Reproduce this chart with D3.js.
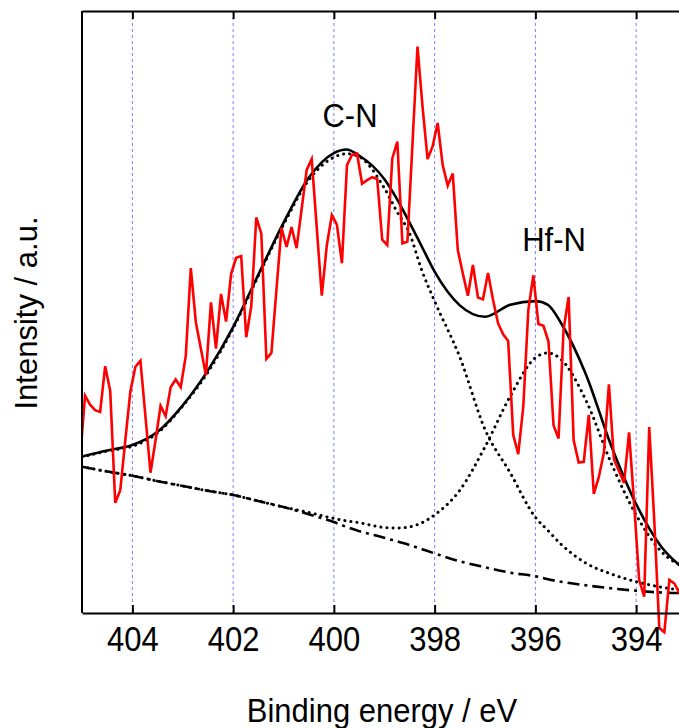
<!DOCTYPE html>
<html>
<head>
<meta charset="utf-8">
<script src="https://cdn.jsdelivr.net/npm/d3@7"></script>
<style>
  body { margin: 0; background: #fff; }
  text { font-family: "Liberation Sans", Arial, sans-serif; fill: #000; }
</style>
</head>
<body>
<svg id="chart" width="679" height="728"></svg>
<script>
// measured spectrum, 0.1 eV steps starting just above 405 eV
const rawStart = 405.04;
const rawStep = 0.1;
const rawIntensity = [
  25.4, 36.1, 34.6, 33.7, 33.4, 41.0, 36.9, 18.3, 20.4, 28.7,
  36.8, 40.9, 41.9, 32.6, 23.3, 28.7, 34.4, 32.7, 37.5, 38.8,
  37.5, 42.7, 57.3, 48.3, 43.9, 39.5, 51.6, 43.9, 53.0, 48.4,
  56.3, 59.0, 59.3, 45.8, 50.9, 65.7, 63.0, 42.2, 43.2, 53.7,
  64.0, 60.8, 64.1, 60.6, 67.1, 73.6, 75.4, 64.0, 52.7, 61.1,
  66.1, 64.5, 58.1, 74.4, 76.1, 76.3, 71.3, 71.9, 72.4, 72.1,
  62.0, 61.1, 75.5, 78.3, 61.4, 61.7, 77.9, 94.1, 84.1, 75.4,
  77.5, 81.4, 74.4, 71.0, 73.0, 60.3, 56.4, 52.7, 57.8, 52.4,
  52.1, 56.5, 52.0, 48.1, 46.3, 45.2, 29.6, 26.4, 34.3, 50.3,
  56.1, 48.0, 47.7, 45.1, 31.2, 29.0, 47.1, 52.5, 28.7, 25.0,
  25.1, 32.9, 19.8, 22.6, 26.6, 38.0, 25.5, 23.6, 21.6, 30.0,
  18.2, 5.5, 2.7, 30.9, 15.4, -2.5, -3.2, 5.5, 4.9, 3.3,
  2.2
];
const rawEnergy = rawIntensity.map((d, i) => +(rawStart - i * rawStep).toFixed(2));

const fitEnergy = [405, 404.5, 404, 403.5, 403, 402.5, 402, 401.5, 401, 400.5, 400, 399.75, 399.5,
  399, 398.75, 398.5, 398.25, 398, 397.5, 397, 396.5, 396, 395.75, 395.5, 395, 394.5, 394, 393.5, 393];
const envelope = [26.0, 27.0, 27.9, 30.1, 34.5, 40.3, 47.5, 56.2, 64.8, 72.3, 76.4, 77.0, 76.0,
  72.1, 68.8, 64.9, 60.8, 56.7, 51.1, 49.2, 51.2, 51.8, 51.2, 48.3, 39.7, 27.9, 18.1, 11.0, 7.0];
const peakCN = [25.9, 26.9, 27.7, 29.9, 34.4, 40.0, 47.3, 56.0, 64.5, 71.9, 75.7, 76.3, 75.8,
  70.6, 66.7, 63.1, 56.8, 51.8, 42.5, 30.5, 23.3, 15.9, 13.7, 11.5, 8.3, 6.5, 5.2, 4.3, 3.7];
const peakHfN = [24.3, 23.5, 22.8, 21.9, 21.1, 20.3, 19.6, 18.6, 17.6, 16.7, 15.7, 15.3, 15.0,
  14.2, 14.1, 14.3, 15.0, 16.3, 20.4, 27.6, 36.0, 42.4, 43.2, 42.2, 35.4, 25.0, 16.3, 10.2, 7.5];
const background = [24.3, 23.5, 22.8, 21.9, 21.1, 20.3, 19.6, 18.6, 17.6, 16.4, 15.1, 14.3, 13.6,
  12.5, 11.9, 11.3, 10.6, 9.9, 8.6, 7.6, 6.7, 6.1, 5.6, 5.2, 4.6, 4.1, 3.7, 3.4, 3.3];

const xTicks = [404, 402, 400, 398, 396, 394];
const peakNames = ['C-N', 'Hf-N'];
const peakLabelEnergy = [399.68, 395.63];
const peakLabelValue = [80.7, 60.1];

const x = d3.scaleLinear().domain([405, 393]).range([82, 686.5]);
const y = d3.scaleLinear().domain([0, 100]).range([613, 11]);

const svg = d3.select('#chart');

svg.append('defs')
  .append('clipPath')
  .attr('id', 'clip')
  .append('rect')
  .attr('x', x(405))
  .attr('y', 0)
  .attr('width', 620)
  .attr('height', 728);

// blue dashed grid
svg.append('g')
  .selectAll('line')
  .data(xTicks)
  .join('line')
  .attr('x1', d => x(d))
  .attr('x2', d => x(d))
  .attr('y1', y(100))
  .attr('y2', y(0))
  .attr('stroke', '#7c7cff')
  .attr('stroke-width', 1)
  .attr('stroke-dasharray', '3,3');

// curves
const smooth = d3.line()
  .x(d => x(d[0]))
  .y(d => y(d[1]))
  .curve(d3.curveMonotoneX);

const plot = svg.append('g').attr('clip-path', 'url(#clip)');

plot.append('path')
  .datum(d3.zip(fitEnergy, background))
  .attr('d', smooth)
  .attr('fill', 'none')
  .attr('stroke', '#000')
  .attr('stroke-width', 2.6)
  .attr('stroke-dasharray', '12,5,3,5');

[peakCN, peakHfN].forEach(s => {
  plot.append('path')
    .datum(d3.zip(fitEnergy, s))
    .attr('d', smooth)
    .attr('fill', 'none')
    .attr('stroke', '#000')
    .attr('stroke-width', 3)
    .attr('stroke-linecap', 'round')
    .attr('stroke-dasharray', '0.1,6');
});

plot.append('path')
  .datum(d3.zip(fitEnergy, envelope))
  .attr('d', smooth)
  .attr('fill', 'none')
  .attr('stroke', '#000')
  .attr('stroke-width', 2.6);

plot.append('path')
  .datum(d3.zip(rawEnergy, rawIntensity))
  .attr('d', d3.line().x(d => x(d[0])).y(d => y(d[1])))
  .attr('fill', 'none')
  .attr('stroke', '#ff0000')
  .attr('stroke-width', 2.6);

// frame + axes
const xAxis = d3.axisBottom(x)
  .tickValues(xTicks)
  .tickFormat(d3.format('d'))
  .tickSizeInner(-8)
  .tickSizeOuter(0)
  .tickPadding(11);

const gx = svg.append('g')
  .attr('transform', `translate(0,${y(0)})`)
  .attr('font-size', null)
  .attr('font-family', null)
  .call(xAxis);
gx.select('.domain').attr('stroke-width', 2);
gx.selectAll('.tick line').attr('stroke-width', 2);
gx.selectAll('.tick text')
  .attr('font-size', 31)
  .attr('fill', '#000')
  .attr('transform', 'scale(1,1.14)');

const gTop = svg.append('g')
  .attr('transform', `translate(0,${y(100)})`)
  .call(d3.axisTop(x).tickValues(xTicks).tickFormat('').tickSizeInner(-8).tickSizeOuter(0));
gTop.select('.domain').attr('stroke-width', 2);
gTop.selectAll('.tick line').attr('stroke-width', 2);

svg.append('line')
  .attr('x1', x(405))
  .attr('x2', x(405))
  .attr('y1', y(100))
  .attr('y2', y(0))
  .attr('stroke', '#000')
  .attr('stroke-width', 2);

// labels
svg.append('g')
  .selectAll('text')
  .data(peakNames)
  .join('text')
  .attr('transform', (d, i) => `translate(${x(peakLabelEnergy[i])},${y(peakLabelValue[i])}) scale(1,1.08)`)
  .attr('text-anchor', 'middle')
  .attr('font-size', 31)
  .text(d => d);

svg.append('text')
  .attr('transform', 'translate(382,722) scale(1,1.1)')
  .attr('text-anchor', 'middle')
  .attr('font-size', 31)
  .text('Binding energy / eV');

svg.append('text')
  .attr('transform', 'translate(37,313) rotate(-90)')
  .attr('text-anchor', 'middle')
  .attr('font-size', 31)
  .text('Intensity / a.u.');
</script>
</body>
</html>
